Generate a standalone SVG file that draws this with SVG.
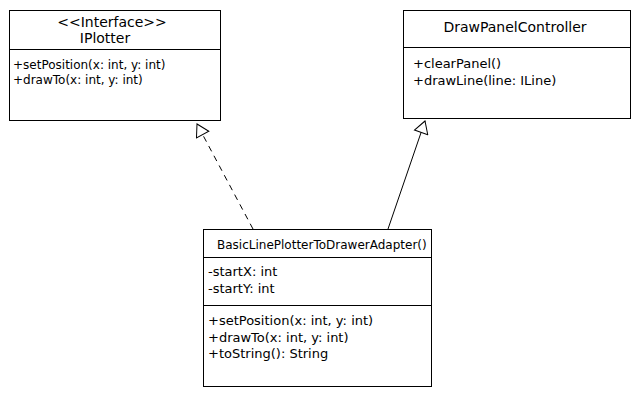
<svg xmlns="http://www.w3.org/2000/svg" width="640" height="400" viewBox="0 0 640 400">
<style>
.box{fill:#fff;stroke:#000;stroke-width:1}
.div{stroke:#000;stroke-width:1}
text{font-family:"DejaVu Sans",sans-serif;fill:#000}
.t{font-size:14px;text-anchor:middle}
.m12{font-size:12px}
.m13{font-size:13px}
.edge{fill:none;stroke:#000;stroke-width:1}
</style>
<defs>
<marker id="tri" markerUnits="userSpaceOnUse" markerWidth="16" markerHeight="16" viewBox="-1 -8 15 16" refX="12" refY="0" orient="auto">
<path d="M12,0 L0,-7 L0,7 Z" fill="#fff" stroke="#000" stroke-width="1"/>
</marker>
</defs>
<g id="connectors">
<path class="edge" d="M253,229 L197,124" stroke-dasharray="6,5" marker-end="url(#tri)"/>
<path class="edge" d="M388,229 L425,121" marker-end="url(#tri)"/>
</g>
<g id="IPlotter">
<rect class="box" x="9.5" y="10.5" width="211" height="110"/>
<line class="div" x1="9.5" y1="49.5" x2="220.5" y2="49.5"/>
<text class="t" x="112" y="27">&lt;&lt;Interface&gt;&gt;</text>
<text class="t" x="105" y="43">IPlotter</text>
<text class="m12" x="13" y="69">+setPosition(x: int, y: int)</text>
<text class="m12" x="13" y="84">+drawTo(x: int, y: int)</text>
</g>
<g id="DrawPanelController">
<rect class="box" x="403.5" y="10.5" width="227" height="108"/>
<line class="div" x1="403.5" y1="47.5" x2="630.5" y2="47.5"/>
<text class="t" x="515" y="32">DrawPanelController</text>
<text class="m13" x="413" y="68">+clearPanel()</text>
<text class="m13" x="413" y="85">+drawLine(line: ILine)</text>
</g>
<g id="BasicLinePlotterToDrawerAdapter">
<rect class="box" x="203.5" y="229.5" width="228" height="157"/>
<line class="div" x1="203.5" y1="257.5" x2="431.5" y2="257.5"/>
<line class="div" x1="203.5" y1="305.5" x2="431.5" y2="305.5"/>
<text class="m12" x="217" y="249">BasicLinePlotterToDrawerAdapter()</text>
<text class="m13" x="208" y="276">-startX: int</text>
<text class="m13" x="208" y="293">-startY: int</text>
<text class="m13" x="208" y="325">+setPosition(x: int, y: int)</text>
<text class="m13" x="208" y="342">+drawTo(x: int, y: int)</text>
<text class="m13" x="208" y="358">+toString(): String</text>
</g>
</svg>
